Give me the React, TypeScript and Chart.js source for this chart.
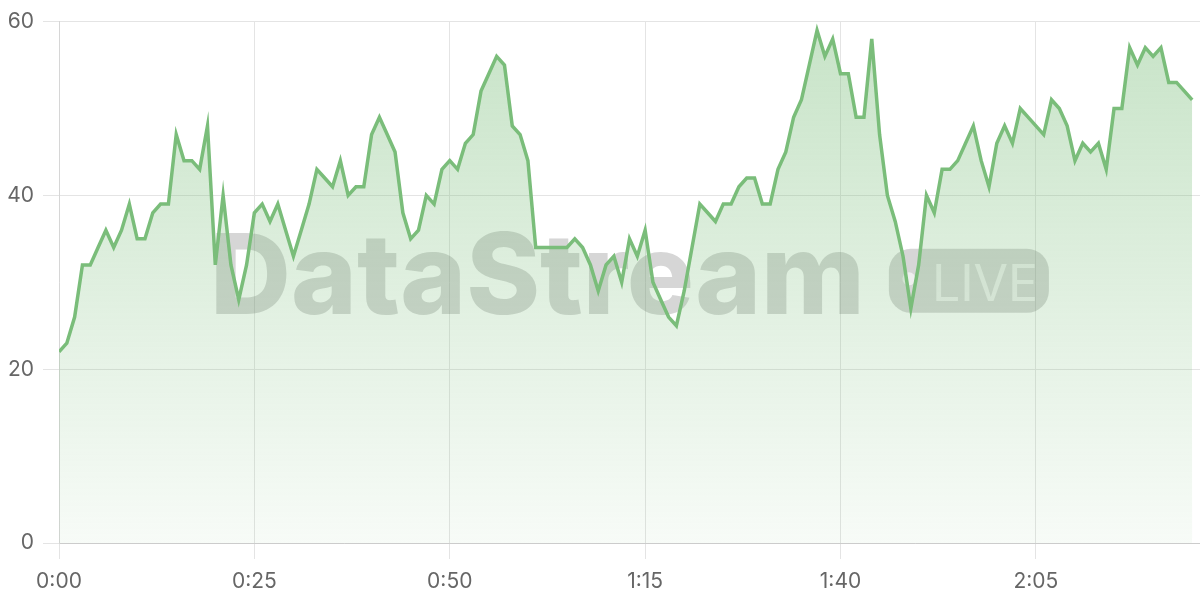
import React, { useEffect, useRef } from 'react';
import { Chart, registerables } from 'chart.js';

Chart.register(...registerables);

// Sampled value per second (0:00 .. 2:25)
const values: number[] = [
  22, 23, 26, 32, 32, 34, 36, 34, 36, 39,
  35, 35, 38, 39, 39, 47, 44, 44, 43, 48,
  32, 40, 32, 28, 32, 38, 39, 37, 39, 36,
  33, 36, 39, 43, 42, 41, 44, 40, 41, 41,
  47, 49, 47, 45, 38, 35, 36, 40, 39, 43,
  44, 43, 46, 47, 52, 54, 56, 55, 48, 47,
  44, 34, 34, 34, 34, 34, 35, 34, 32, 29,
  32, 33, 30, 35, 33, 36, 30, 28, 26, 25,
  29, 34, 39, 38, 37, 39, 39, 41, 42, 42,
  39, 39, 43, 45, 49, 51, 55, 59, 56, 58,
  54, 54, 49, 49, 58, 47, 40, 37, 33, 27,
  32, 40, 38, 43, 43, 44, 46, 48, 44, 41,
  46, 48, 46, 50, 49, 48, 47, 51, 50, 48,
  44, 46, 45, 46, 43, 50, 50, 57, 55, 57,
  56, 57, 53, 53, 52, 51,
];

// seconds elapsed for each sample (one sample per second)
const seconds: number[] = values.map((_, i) => i);

const xTickValues: number[] = [0, 25, 50, 75, 100, 125];
const xTickLabels: string[] = ['0:00', '0:25', '0:50', '1:15', '1:40', '2:05'];
const yTickValues: number[] = [0, 20, 40, 60];
const yTickLabels: string[] = ['0', '20', '40', '60'];

const X_MAX = 146;
const WATERMARK = 'DataStream';
const BADGE = 'LIVE';

const LINE = 'rgb(122,189,122)';

const watermarkPlugin = {
  id: 'watermark',
  beforeDatasetsDraw(chart: any) {
    const { ctx, chartArea: a } = chart;
    if (!a) return;
    const cx = (a.left + a.right) / 2;
    const cy = (a.top + a.bottom) / 2;
    ctx.save();
    ctx.font = '800 112px Inter';
    const tw = ctx.measureText(WATERMARK).width;
    const pillW = 160;
    const pillH = 64;
    const gap = 24;
    const total = tw + gap + pillW;
    const x0 = cx - total / 2;
    ctx.fillStyle = 'rgba(105,105,105,0.27)';
    ctx.textBaseline = 'alphabetic';
    ctx.textAlign = 'left';
    ctx.fillText(WATERMARK, x0, cy + 31.5);
    const px = x0 + tw + gap;
    const py = cy - 33.5;
    ctx.beginPath();
    ctx.roundRect(px, py, pillW, pillH, 22);
    ctx.fill();
    ctx.fillStyle = 'rgba(255,255,255,0.62)';
    ctx.beginPath();
    ctx.arc(px + 20, cy - 3.5, 6.5, 0, Math.PI * 2);
    ctx.fill();
    ctx.font = '400 50px Inter';
    ctx.fillText(BADGE, px + 43, cy + 18.5);
    ctx.restore();
  },
};

export default function App() {
  const ref = useRef<HTMLCanvasElement | null>(null);

  useEffect(() => {
    if (!ref.current) return;
    const tickFont = { family: 'Inter', size: 21 };
    const chart = new Chart(ref.current, {
      type: 'line',
      data: {
        datasets: [
          {
            data: seconds.map((s, i) => ({ x: s, y: values[i] })),
            borderColor: LINE,
            borderWidth: 3.5,
            pointRadius: 0,
            tension: 0,
            fill: 'origin',
            backgroundColor: (c: any) => {
              const a = c.chart.chartArea;
              if (!a) return 'rgba(122,189,122,0.2)';
              const g = c.chart.ctx.createLinearGradient(0, a.top, 0, a.bottom);
              g.addColorStop(0, 'rgba(122,189,122,0.42)');
              g.addColorStop(1, 'rgba(122,189,122,0.06)');
              return g;
            },
          },
        ],
      },
      options: {
        animation: false,
        responsive: true,
        maintainAspectRatio: false,
        layout: { padding: { top: 20, right: 0, left: 0, bottom: 0 } },
        plugins: { legend: { display: false }, tooltip: { enabled: false } },
        scales: {
          x: {
            type: 'linear',
            min: 0,
            max: X_MAX,
            afterBuildTicks: (axis: any) => {
              axis.ticks = xTickValues.map((v) => ({ value: v }));
            },
            afterFit: (axis: any) => {
              axis.height = 57;
            },
            ticks: {
              color: '#666',
              font: tickFont,
              padding: 10,
              maxRotation: 0,
              callback: (v: any) => {
                const i = xTickValues.indexOf(Number(v));
                return i >= 0 ? xTickLabels[i] : '';
              },
            },
            grid: { color: '#e4e4e4', tickLength: 16 },
            border: { color: '#cccccc' },
          },
          y: {
            min: 0,
            max: 60,
            afterBuildTicks: (axis: any) => {
              axis.ticks = yTickValues.map((v) => ({ value: v }));
            },
            afterFit: (axis: any) => {
              axis.width = 59;
            },
            ticks: {
              color: '#666',
              font: tickFont,
              padding: 9,
              callback: (v: any) => {
                const i = yTickValues.indexOf(Number(v));
                return i >= 0 ? yTickLabels[i] : '';
              },
            },
            grid: { color: '#e4e4e4', tickLength: 16 },
            border: { color: '#d6d6d6' },
          },
        },
      },
      plugins: [watermarkPlugin],
    });
    return () => chart.destroy();
  }, []);

  return (
    <div style={{ position: 'absolute', left: 0, top: 0, width: 1200, height: 600, background: '#fff' }}>
      <canvas ref={ref} />
    </div>
  );
}
